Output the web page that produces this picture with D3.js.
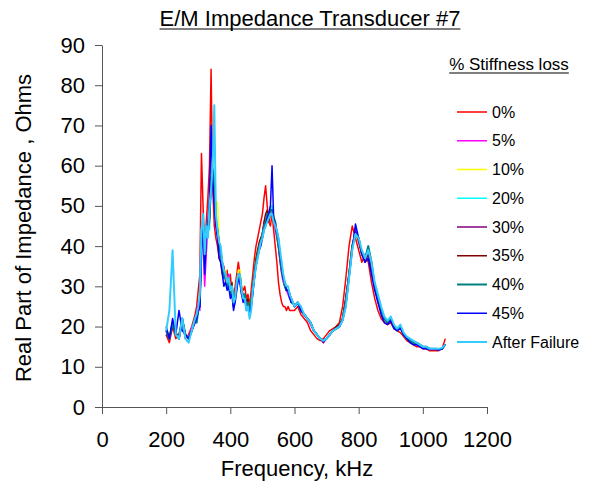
<!DOCTYPE html>
<html>
<head>
<meta charset="utf-8">
<script src="https://cdn.jsdelivr.net/npm/d3@7"></script>
<style>
  body { margin: 0; background: #fff; }
  text { font-family: "Liberation Sans", Arial, sans-serif; fill: #000; }
</style>
</head>
<body>
<svg id="chart" width="597" height="491"></svg>
<script>
// frequency grid, kHz: 10 kHz steps, 5 kHz steps through the busy 290-595 band
const freqs = d3.range(200, 290, 10)
  .concat(d3.range(290, 600, 5))
  .concat(d3.range(600, 1080, 10));

const seriesNames = ["0%", "5%", "10%", "20%", "30%", "35%", "40%", "45%", "After Failure"];
const seriesColors = ["#ff0000", "#ff00ff", "#ffff00", "#00ffff", "#800080", "#800000", "#008080", "#0000ff", "#33ccff"];

const xTicks = [0, 200, 400, 600, 800, 1000, 1200];
const yTicks = [0, 10, 20, 30, 40, 50, 60, 70, 80, 90];

// real part of impedance, ohms
const loss0 = [18, 16, 20, 17, 18, 21, 17, 18, 20,
  23, 25, 29, 33, 63, 50, 38, 46, 52, 60,
  84, 55, 45, 42, 40, 37, 36, 33, 35, 31,
  34, 30, 33, 28, 27, 30, 33, 36, 33, 30,
  29, 30, 27, 28, 25, 29, 33, 37, 40, 42,
  44, 46, 48, 52, 55, 50, 46, 45, 48, 44,
  40, 36, 31, 28, 26, 25, 25, 24, 25, 24,
  24, 24,
  24, 25, 23, 22, 21, 19, 18, 17, 16.5, 17,
  18, 19, 19.5, 20, 21, 25, 32, 40, 45, 42,
  39, 36, 38, 36, 31, 27, 24, 22, 21, 20.5,
  21, 19.5, 19, 18.5, 17.5, 16.5, 16, 15.5, 15, 15,
  14.5, 14.5, 14, 14, 14, 14, 14.5, 17];
const loss5 = [19, 17, 20, 18, 17, 21, 18, 17, 20,
  21, 23, 26, 24, 45, 40, 30, 38, 45, 50,
  60, 57, 54, 45, 43, 41, 37, 36, 33, 32,
  31, 33, 29, 29, 26, 27, 31, 33, 31, 28,
  28, 27, 26, 25, 23, 25, 30, 33, 36, 39,
  40, 42, 43, 46, 46, 48, 48, 50, 49, 47,
  44, 42, 40, 36, 33, 31, 30, 29, 28, 27,
  27, 26,
  25, 26, 24, 23, 22, 20.5, 19, 18, 17, 16,
  17, 18, 19, 19.5, 20, 21.5, 27, 33, 40, 43,
  41, 38, 36, 38, 34, 30, 26, 24, 22, 21,
  22, 20, 19, 20, 18, 17, 16.5, 16, 15.5, 15.5,
  15, 15, 14.5, 14.5, 14.5, 14.3, 14.5, 15.5];
const loss10 = [19, 18, 20, 18, 17, 21, 18, 17, 19,
  22, 22, 24, 26, 44, 46, 38, 42, 45, 48,
  58, 62, 55, 50, 51, 42, 38, 36, 33, 34,
  31, 32, 29, 31, 26, 28, 31, 34, 34, 30,
  28, 28, 26, 27, 24, 26, 30, 33, 37, 39,
  40, 42, 43, 45, 46, 47, 48, 49, 50, 48,
  46, 43, 40, 38, 35, 33, 31, 30, 30, 28,
  27, 26,
  25, 26, 24, 23, 22, 21, 19, 18, 17, 16.5,
  17, 18, 19, 19.5, 20, 22, 26, 33, 40, 43,
  41, 38, 36, 38, 35, 30, 27, 24, 22, 21,
  22, 20, 19, 20, 18, 17, 16.5, 16, 16, 15.5,
  15, 15, 14.5, 14.5, 14.5, 14.3, 14.5, 15.5];
const loss20 = [19, 17, 21, 18, 17, 22, 18, 17, 19,
  22, 21, 24, 27, 44, 48, 35, 42, 47, 44,
  56, 60, 58, 47, 44, 40, 38, 35, 32, 33,
  30, 32, 28, 30, 25, 28, 30, 33, 32, 29,
  27, 28, 25, 26, 23, 26, 29, 33, 36, 38,
  40, 41, 42, 45, 46, 48, 47, 49, 50, 47,
  45, 43, 40, 37, 34, 32, 30, 29, 29, 28,
  26, 26,
  25, 26, 24, 23, 22, 21, 19, 18, 17, 16.5,
  17, 18, 19, 19.5, 20, 22, 27, 33, 40, 44,
  42, 38, 36, 38, 35, 30, 27, 24, 22, 21,
  22, 20, 19, 20, 18, 17, 16.5, 16, 16, 15.5,
  15, 15, 14.5, 14.5, 14.5, 14.3, 14.5, 15.5];
const loss30 = [18, 17, 21, 18, 17, 21, 18, 17, 19,
  21, 22, 24, 25, 42, 47, 37, 43, 44, 46,
  57, 58, 53, 46, 43, 40, 39, 35, 33, 32,
  30, 31, 28, 30, 25, 27, 30, 32, 32, 29,
  27, 27, 25, 26, 24, 25, 29, 32, 36, 38,
  40, 41, 43, 45, 46, 47, 48, 49, 49, 47,
  46, 43, 41, 37, 34, 32, 30, 29, 29, 28,
  26, 26,
  25, 26, 24, 23, 22, 21, 19, 18, 17, 16,
  17, 18, 19, 19.5, 20, 22, 27, 33, 40, 44,
  41, 38, 36, 38, 35, 30, 27, 24, 22, 21,
  22, 20, 19, 20, 18, 17, 16.5, 16, 16, 15.5,
  15, 15, 14.5, 14.5, 14.5, 14.3, 14.5, 15.5];
const loss35 = [19, 17, 20, 18, 18, 22, 18, 17, 19,
  22, 22, 25, 26, 41, 48, 36, 43, 45, 48,
  55, 58, 52, 46, 44, 41, 39, 36, 34, 33,
  31, 32, 29, 31, 26, 28, 31, 33, 33, 29,
  28, 28, 26, 27, 24, 26, 30, 33, 37, 39,
  41, 42, 43, 46, 48, 49, 46, 48, 48, 47,
  45, 43, 40, 37, 34, 32, 31, 29, 29, 28,
  27, 26,
  25, 26, 24, 23, 22, 21, 19, 18, 17, 16.5,
  17, 18, 19, 20, 20.5, 22, 27, 33, 40, 43,
  42, 38, 37, 39, 35, 30, 27, 24, 22, 21,
  22, 20, 19, 20, 18, 17, 16.5, 16, 16, 15.5,
  15, 15, 14.5, 14.5, 14.5, 14.3, 14.5, 15.5];
const loss40 = [19, 17, 21, 18, 17, 22, 18, 17, 19,
  22, 21, 24, 26, 40, 46, 36, 44, 46, 47,
  56, 59, 55, 46, 44, 40, 38, 35, 32, 33,
  30, 31, 28, 30, 25, 27, 30, 33, 32, 29,
  27, 28, 25, 26, 23, 26, 29, 33, 36, 38,
  40, 41, 43, 45, 46, 48, 47, 49, 49, 47,
  46, 43, 40, 37, 34, 32, 30, 29, 29, 28,
  26, 26,
  25, 26, 24, 23, 22, 21, 19, 18, 17, 16.5,
  17, 18, 19, 19.5, 20, 22, 26, 33, 40, 43,
  42, 38, 37, 40, 36, 30, 27, 24, 22, 21,
  22, 20, 19, 20, 18, 17, 16.5, 16, 16, 15.5,
  15, 15, 14.5, 14.5, 14.5, 14.3, 14.5, 15.5];
const loss45 = [20, 17, 22, 18, 24, 19, 18, 17, 19,
  21, 22, 24, 25, 39, 44, 33, 42, 46, 52,
  70, 56, 50, 45, 42, 37, 36, 33, 30, 31,
  29, 30, 27, 28, 24, 26, 29, 32, 31, 28,
  26, 27, 24, 25, 23, 25, 28, 32, 35, 37,
  39, 40, 42, 44, 45, 47, 48, 50, 60, 47,
  45, 44, 42, 38, 35, 32, 31, 29, 29, 27,
  26, 26,
  25, 26, 24, 23, 22, 21, 19, 18, 17, 16.5,
  17, 18, 19, 19.5, 20, 21.5, 25, 32, 39, 45.5,
  42, 38, 36, 37, 33, 29, 26, 23, 21, 20.5,
  21.5, 19.5, 19, 19.5, 18, 17, 16, 15.5, 15.5, 15,
  14.5, 14.5, 14.3, 14.3, 14.3, 14.2, 14.5, 15.5];
const afterFailure = [19, 24, 39, 18, 17, 22, 17, 16, 19,
  22, 23, 25, 28, 44, 48, 38, 45, 42, 50,
  54, 60, 75, 48, 44, 41, 40, 36, 34, 33,
  31, 32, 29, 30, 26, 27, 31, 33, 33, 29,
  27, 27, 24, 25, 22, 24, 29, 32, 35, 37,
  39, 41, 42, 44, 45, 46, 47, 48, 48, 46,
  45, 44, 42, 39, 36, 33, 31, 30, 30, 28,
  27, 26,
  25, 26, 25, 23, 22, 21, 19, 18, 17, 16.5,
  17, 18, 19, 19.5, 20, 21.5, 25, 32, 39, 43,
  42, 39, 37, 39, 36, 31, 28, 25, 22.5, 21.5,
  22.5, 20.5, 19.5, 20.5, 18.5, 17.5, 17, 16.5, 16, 15.5,
  15, 15, 14.5, 14.5, 14.5, 14.5, 14.7, 15.5];

const allValues = [loss0, loss5, loss10, loss20, loss30, loss35, loss40, loss45, afterFailure];
const widths = [1.5, 1.5, 1.5, 1.5, 1.5, 1.5, 2, 1.5, 2];

const svg = d3.select("#chart");
svg.append("rect").attr("width", 597).attr("height", 491).attr("fill", "white");

const x = d3.scaleLinear().domain([0, 1200]).range([102, 487]);
const y = d3.scaleLinear().domain([0, 90]).range([407, 45]);

// title
const title = svg.append("text")
  .attr("x", 310).attr("y", 26)
  .attr("text-anchor", "middle")
  .style("font-size", "22px")
  .text("E/M Impedance Transducer #7");
const tb = title.node().getBBox();
svg.append("line")
  .attr("x1", tb.x).attr("x2", tb.x + tb.width)
  .attr("y1", 29).attr("y2", 29)
  .attr("stroke", "#000").attr("stroke-width", 1.2);

// axes
const xAxis = d3.axisBottom(x).tickValues(xTicks).tickFormat(d3.format("d"))
  .tickSize(7).tickSizeOuter(0).tickPadding(17);
const yAxis = d3.axisLeft(y).tickValues(yTicks).tickSize(7).tickSizeOuter(0).tickPadding(10);

const gx = svg.append("g").attr("transform", "translate(0,407)").call(xAxis);
const gy = svg.append("g").attr("transform", "translate(102,0)").call(yAxis);
[gx, gy].forEach(g => {
  g.selectAll("path.domain").attr("stroke", "#555");
  g.selectAll(".tick line").attr("stroke", "#555");
  g.selectAll(".tick text").style("font-size", "22px").attr("fill", "#000")
    .style("font-family", "'Liberation Sans', Arial, sans-serif");
});

svg.append("text")
  .attr("x", 297).attr("y", 476)
  .attr("text-anchor", "middle")
  .style("font-size", "22px")
  .text("Frequency, kHz");

svg.append("text")
  .attr("transform", "translate(31,228) rotate(-90)")
  .attr("text-anchor", "middle")
  .style("font-size", "22px")
  .text("Real Part of Impedance , Ohms");

// lines
const line = d3.line()
  .x((d, i) => x(freqs[i]))
  .y(d => y(d));

const plot = svg.append("g");
allValues.forEach((vals, i) => {
  plot.append("path")
    .datum(vals)
    .attr("d", line)
    .attr("fill", "none")
    .attr("stroke", seriesColors[i])
    .attr("stroke-width", widths[i])
    .attr("stroke-linejoin", "round");
});

// legend
const lt = svg.append("text")
  .attr("x", 509).attr("y", 70)
  .attr("text-anchor", "middle")
  .style("font-size", "17px")
  .text("% Stiffness loss");
const lb = lt.node().getBBox();
svg.append("line")
  .attr("x1", lb.x).attr("x2", lb.x + lb.width)
  .attr("y1", 73).attr("y2", 73)
  .attr("stroke", "#000").attr("stroke-width", 1.2);

const legend = svg.append("g");
seriesNames.forEach((name, i) => {
  const ly = 112 + i * 28.75;
  legend.append("line")
    .attr("x1", 457).attr("x2", 487)
    .attr("y1", ly).attr("y2", ly)
    .attr("stroke", seriesColors[i])
    .attr("stroke-width", widths[i]);
  legend.append("text")
    .attr("x", 492).attr("y", ly)
    .attr("dy", "0.35em")
    .style("font-size", "16px")
    .text(name);
});
</script>
</body>
</html>
